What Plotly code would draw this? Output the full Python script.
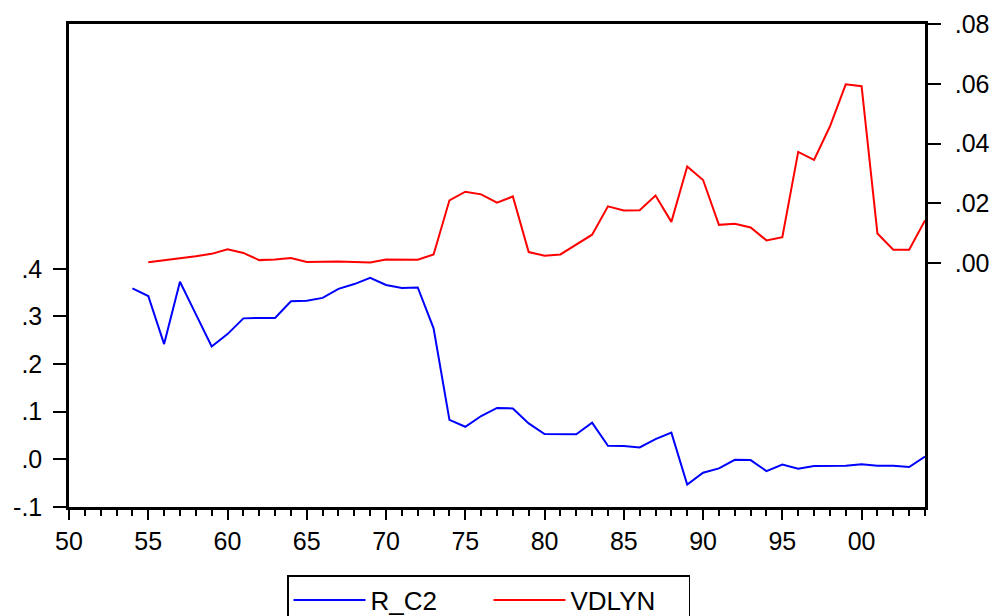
import plotly.graph_objects as go

years_r = list(range(1954, 2005))
r_c2 = [0.359, 0.343, 0.242, 0.373, 0.305, 0.237, 0.263, 0.296, 0.297, 0.297,
        0.332, 0.333, 0.339, 0.358, 0.368, 0.381, 0.366, 0.360, 0.361, 0.275,
        0.083, 0.0685, 0.091, 0.108, 0.107, 0.0756, 0.053, 0.0525, 0.0525, 0.077,
        0.0286, 0.028, 0.025, 0.0426, 0.056, -0.053, -0.028, -0.019, -0.001, -0.0015,
        -0.0246, -0.011, -0.0197, -0.014, -0.014, -0.0134, -0.0105, -0.0134, -0.0134, -0.016,
        0.006]

years_v = list(range(1955, 2005))
vdlyn = [0.0003, 0.0009, 0.0015, 0.0023, 0.0031, 0.0046, 0.0034, 0.0010, 0.0012, 0.0017,
         0.0004, 0.0005, 0.0005, 0.0004, 0.0002, 0.0012, 0.0012, 0.0011, 0.0029, 0.0210,
         0.0239, 0.0230, 0.0202, 0.0223, 0.0037, 0.0025, 0.0029, 0.0061, 0.0095, 0.0190,
         0.0176, 0.0177, 0.0226, 0.0138, 0.0323, 0.0278, 0.0128, 0.0132, 0.0119, 0.0076,
         0.0087, 0.0372, 0.0345, 0.0457, 0.0598, 0.0592, 0.0099, 0.0045, 0.0045, 0.0143]

x_tickvals = [1950, 1955, 1960, 1965, 1970, 1975, 1980, 1985, 1990, 1995, 2000]
x_ticktext = ["50", "55", "60", "65", "70", "75", "80", "85", "90", "95", "00"]
y1_tickvals = [-0.1, 0.0, 0.1, 0.2, 0.3, 0.4]
y1_ticktext = ["-.1", ".0", ".1", ".2", ".3", ".4"]
y2_tickvals = [0.0, 0.02, 0.04, 0.06, 0.08]
y2_ticktext = [".00", ".02", ".04", ".06", ".08"]

FONT = "Liberation Sans, Arial, Helvetica, sans-serif"

fig = go.Figure()
fig.add_trace(go.Scatter(x=years_r, y=r_c2, mode="lines", name="R_C2",
                         line=dict(color="#0000ff", width=2), yaxis="y"))
fig.add_trace(go.Scatter(x=years_v, y=vdlyn, mode="lines", name="VDLYN",
                         line=dict(color="#ff0000", width=2), yaxis="y2"))

fig.update_layout(
    width=1000, height=616,
    margin=dict(l=61, r=83, t=16, b=117, autoexpand=False),
    paper_bgcolor="white", plot_bgcolor="white",
    font=dict(family=FONT, size=25, color="black"),
    showlegend=True,
    legend=dict(orientation="h", xref="container", yref="container",
                x=0.279, xanchor="left", y=0.0795, yanchor="top",
                bordercolor="black", borderwidth=1.5, font=dict(size=26),
                itemwidth=72, entrywidth=113, bgcolor="white"),
    xaxis=dict(range=[1950, 2004], tickmode="array", tickvals=x_tickvals, ticktext=x_ticktext,
               ticks="outside", ticklen=10, tickwidth=1.5, tickcolor="black",
               minor=dict(tickmode="array", tickvals=list(range(1950, 2005)), ticks="outside",
                          ticklen=6, tickwidth=1.5, tickcolor="black"),
               showline=True, linecolor="black", linewidth=2.5, mirror=True,
               showgrid=False, zeroline=False, automargin=False),
    yaxis=dict(range=[-0.1, 0.914], tickmode="array", tickvals=y1_tickvals, ticktext=y1_ticktext,
               ticks="outside", ticklen=13, tickwidth=1.5, tickcolor="black",
               ticklabelstandoff=6,
               showline=True, linecolor="black", linewidth=2.5,
               showgrid=False, zeroline=False, automargin=False),
    yaxis2=dict(range=[-0.0816, 0.08], overlaying="y", side="right", tickmode="array",
                tickvals=y2_tickvals, ticktext=y2_ticktext,
                ticks="outside", ticklen=13, tickwidth=1.5, tickcolor="black",
                ticklabelstandoff=9,
                showline=True, linecolor="black", linewidth=2.5,
                showgrid=False, zeroline=False, automargin=False),
)

fig.write_html("out.html")
